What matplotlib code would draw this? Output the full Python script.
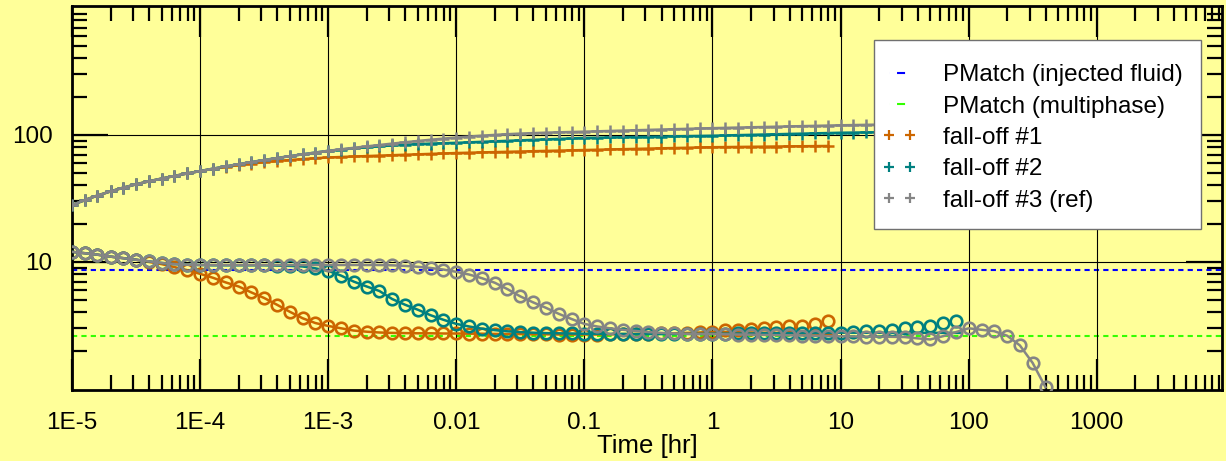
import matplotlib
matplotlib.use('Agg')
import matplotlib.pyplot as plt
from matplotlib.lines import Line2D
from matplotlib.patches import Rectangle
from matplotlib.ticker import FixedLocator, FixedFormatter, LogLocator, NullFormatter

plt.rcParams['font.family'] = ['Liberation Sans', 'DejaVu Sans']

# ---------------- data ----------------
time_hr = [1.0e-5, 1.26e-5, 1.58e-5, 2.0e-5, 2.51e-5, 3.16e-5, 3.98e-5, 5.01e-5, 6.31e-5, 7.94e-5,
           1.0e-4, 1.26e-4, 1.58e-4, 2.0e-4, 2.51e-4, 3.16e-4, 3.98e-4, 5.01e-4, 6.31e-4, 7.94e-4,
           1.0e-3, 1.26e-3, 1.58e-3, 2.0e-3, 2.51e-3, 3.16e-3, 3.98e-3, 5.01e-3, 6.31e-3, 7.94e-3,
           1.0e-2, 1.26e-2, 1.58e-2, 2.0e-2, 2.51e-2, 3.16e-2, 3.98e-2, 5.01e-2, 6.31e-2, 7.94e-2,
           0.1, 0.126, 0.158, 0.2, 0.251, 0.316, 0.398, 0.501, 0.631, 0.794,
           1.0, 1.26, 1.58, 2.0, 2.51, 3.16, 3.98, 5.01, 6.31, 7.94,
           10.0, 12.6, 15.8, 20.0, 25.1, 31.6, 39.8, 50.1, 63.1, 79.4,
           100.0, 126.0, 158.0, 200.0, 251.0, 316.0, 398.0]

# pressure change (+ markers)
dp1 = [28.0, 30.7, 33.3, 35.9, 38.4, 40.8, 43.1, 45.3, 47.5, 49.7,
       51.9, 54.0, 56.0, 57.8, 59.4, 60.9, 62.2, 63.4, 64.5, 65.5,
       66.4, 67.0, 67.6, 68.1, 68.7, 69.2, 69.8, 70.3, 70.9, 71.4,
       72.0, 72.4, 72.8, 73.2, 73.6, 74.0, 74.4, 74.8, 75.2, 75.6,
       76.0, 76.4, 76.8, 77.2, 77.6, 78.0, 78.4, 78.8, 79.2, 79.6,
       80.0, 80.2, 80.4, 80.6, 80.8, 81.0, 81.2, 81.4, 81.6, 81.8]
dp2 = [28.0, 30.7, 33.3, 35.9, 38.4, 40.8, 43.1, 45.3, 47.5, 49.7,
       51.9, 54.2, 56.5, 58.8, 61.1, 63.4, 65.7, 68.0, 70.3, 72.6,
       74.9, 76.7, 78.4, 80.0, 81.4, 82.6, 83.7, 84.6, 85.4, 86.0,
       86.6, 87.4, 88.2, 89.0, 89.8, 90.6, 91.4, 92.2, 93.0, 93.8,
       94.6, 95.0, 95.4, 95.8, 96.2, 96.6, 97.0, 97.4, 97.8, 98.1,
       98.5, 99.0, 99.6, 100.1, 100.7, 101.2, 101.8, 102.3, 102.9, 103.4,
       104.0, 104.3, 104.6, 104.9, 105.2, 105.5, 105.8, 106.1, 106.4, 106.7]
dp3 = [28.0, 30.7, 33.3, 35.9, 38.4, 40.8, 43.1, 45.3, 47.5, 49.7,
       51.9, 54.2, 56.5, 58.8, 61.1, 63.4, 65.7, 68.0, 70.3, 72.6,
       74.9, 77.0, 79.1, 81.2, 83.3, 85.4, 87.5, 89.6, 91.6, 93.5,
       95.3, 97.0, 98.6, 100.0, 101.3, 102.4, 103.3, 104.1, 104.8, 105.4,
       106.0, 106.7, 107.4, 108.1, 108.8, 109.5, 110.2, 110.9, 111.6, 112.3,
       113.0, 113.6, 114.2, 114.8, 115.4, 116.0, 116.6, 117.2, 117.8, 118.4,
       119.0, 119.5, 120.0, 120.5, 121.0, 121.4, 121.8, 122.2, 122.6, 123.0,
       123.3, 123.6, 123.8, 124.0, 124.1, 124.2, 124.3]

# derivative (o markers)
der1 = [12.0, 11.7, 11.4, 11.0, 10.7, 10.4, 10.0, 9.6, 9.1, 8.6,
        8.05, 7.5, 6.9, 6.4, 5.75, 5.2, 4.6, 4.05, 3.6, 3.3,
        3.13, 3.0, 2.88, 2.82, 2.78, 2.76, 2.75, 2.74, 2.74, 2.73,
        2.73, 2.72, 2.72, 2.71, 2.70, 2.70, 2.69, 2.69, 2.68, 2.68,
        2.68, 2.68, 2.69, 2.70, 2.71, 2.72, 2.73, 2.74, 2.76, 2.78,
        2.82, 2.92, 2.90, 2.97, 3.02, 3.05, 3.10, 3.15, 3.25, 3.40]
der2 = [12.0, 11.7, 11.4, 11.0, 10.7, 10.4, 10.1, 9.8, 9.6, 9.5,
        9.45, 9.4, 9.4, 9.4, 9.4, 9.4, 9.35, 9.3, 9.2, 8.9,
        8.5, 7.8, 7.0, 6.4, 5.9, 5.1, 4.6, 4.2, 3.8, 3.5,
        3.25, 3.1, 2.98, 2.9, 2.84, 2.8, 2.77, 2.75, 2.74, 2.73,
        2.72, 2.72, 2.71, 2.71, 2.70, 2.70, 2.70, 2.70, 2.71, 2.71,
        2.72, 2.72, 2.73, 2.73, 2.74, 2.74, 2.75, 2.75, 2.76, 2.76,
        2.77, 2.80, 2.84, 2.88, 2.93, 3.00, 3.07, 3.15, 3.30, 3.45]
der3 = [12.0, 11.7, 11.4, 11.0, 10.7, 10.4, 10.1, 9.8, 9.6, 9.5,
        9.45, 9.45, 9.45, 9.45, 9.45, 9.45, 9.45, 9.45, 9.45, 9.45,
        9.45, 9.45, 9.45, 9.45, 9.45, 9.4, 9.3, 9.15, 8.95, 8.7,
        8.35, 7.95, 7.45, 6.85, 6.1, 5.35, 4.8, 4.35, 3.9, 3.55,
        3.25, 3.1, 3.0, 2.92, 2.86, 2.8, 2.76, 2.73, 2.71, 2.70,
        2.70, 2.69, 2.68, 2.67, 2.66, 2.65, 2.64, 2.63, 2.62, 2.60,
        2.60, 2.59, 2.58, 2.58, 2.57, 2.56, 2.50, 2.45, 2.60, 2.80,
        3.00, 2.92, 2.85, 2.62, 2.20, 1.60, 1.03]

# model derivative tails (flat model beyond where data deviate)
model1_tail_t, model1_tail = [9.3], [2.70]
model2_tail_t, model2_tail = [85.0], [2.76]
model1_cut, model2_cut = 50, 60

pmatch_injected = 8.7
pmatch_multiphase = 2.61

xtick_vals = [1e-5, 1e-4, 1e-3, 1e-2, 1e-1, 1, 10, 100, 1000]
xtick_labels = ['1E-5', '1E-4', '1E-3', '0.01', '0.1', '1', '10', '100', '1000']
ytick_vals = [10, 100]
ytick_labels = ['10', '100']

names = ['fall-off #1', 'fall-off #2', 'fall-off #3 (ref)']
colors = ['#CC6600', '#008080', '#858585']
BG = '#FFFF99'

# ---------------- figure ----------------
W, H = 1226, 461
fig = plt.figure(figsize=(W / 100, H / 100), dpi=100, facecolor=BG)
ax = fig.add_axes([72 / W, 1 - 390 / H, 1150 / W, 384 / H])
ax.set_facecolor(BG)
ax.set_xscale('log')
ax.set_yscale('log')
ax.set_xlim(1e-5, 9500)
ax.set_ylim(0.98, 1035)

dash = (0, (2.5, 2.0))
ax.axhline(pmatch_injected, color='#0000FF', lw=1.5, ls=dash, zorder=1.5)
ax.axhline(pmatch_multiphase, color='#33FF00', lw=1.5, ls=dash, zorder=1.5)

pressures = [dp1, dp2, dp3]
derivs = [der1, der2, der3]
for i in range(3):
    c = colors[i]
    tp = time_hr[:len(pressures[i])]
    td = time_hr[:len(derivs[i])]
    z = 2 + i
    # model lines
    ax.plot(tp, pressures[i], color=c, lw=1.8, zorder=z)
    if i == 0:
        mt = time_hr[:model1_cut + 1] + model1_tail_t
        mv = der1[:model1_cut + 1] + model1_tail
    elif i == 1:
        mt = time_hr[:model2_cut + 1] + model2_tail_t
        mv = der2[:model2_cut + 1] + model2_tail
    else:
        mt, mv = td, der3
    ax.plot(mt, mv, color=c, lw=1.8, zorder=z)
    # data
    ax.plot(tp, pressures[i], ls='none', marker='+', ms=8.5, mew=1.8, color=c, zorder=z + 0.1)
    ax.plot(td, derivs[i], ls='none', marker='o', ms=8.3, mew=1.9, mfc='none', mec=c, zorder=z + 0.1)

# axes styling
ax.xaxis.set_major_locator(FixedLocator(xtick_vals))
ax.xaxis.set_major_formatter(FixedFormatter(xtick_labels))
ax.xaxis.set_minor_locator(LogLocator(base=10, subs=[2, 3, 4, 5, 6, 7, 8, 9], numticks=30))
ax.xaxis.set_minor_formatter(NullFormatter())
ax.yaxis.set_major_locator(FixedLocator(ytick_vals))
ax.yaxis.set_major_formatter(FixedFormatter(ytick_labels))
ax.yaxis.set_minor_locator(LogLocator(base=10, subs=[2, 3, 4, 5, 6, 7, 8, 9], numticks=30))
ax.yaxis.set_minor_formatter(NullFormatter())

ax.grid(True, which='major', color='black', lw=0.8, zorder=1)
ax.tick_params(which='both', direction='in', top=True, right=True, width=1.6, colors='black',
               labelsize=17.5)
ax.tick_params(axis='x', which='major', length=22, pad=16)
ax.tick_params(axis='y', which='major', length=26, pad=14)
ax.tick_params(which='minor', length=11)
for s in ax.spines.values():
    s.set_linewidth(2.0)
    s.set_color('black')

ax.set_xlabel('Time [hr]', fontsize=18.5, labelpad=0)

# legend
rect = Rectangle((874 / W, 1 - 229 / H), 327 / W, 189 / H, transform=fig.transFigure,
                 facecolor='white', edgecolor='#707070', lw=1.0, zorder=1)
fig.patches.append(rect)
handles = [
    Line2D([], [], color='#0000FF', lw=1.5, ls=(0, (0.01, 3.85, 3.85, 2.9, 1.9, 60))),
    Line2D([], [], color='#33FF00', lw=1.5, ls=(0, (0.01, 3.85, 3.85, 2.9, 1.9, 60))),
] + [Line2D([], [], ls='none', marker='+', ms=7, mew=1.6, color=c) for c in colors]
labels = ['PMatch (injected fluid)', 'PMatch (multiphase)'] + names
leg = fig.legend(handles, labels, loc='upper left', bbox_to_anchor=(882 / W, 1 - 64 / H),
                 bbox_transform=fig.transFigure, frameon=False, borderpad=0, borderaxespad=0,
                 handlelength=1.46, handletextpad=1.05, labelspacing=0.39, numpoints=2,
                 fontsize=17.5)
leg.set_zorder(2)

fig.savefig('out.png', dpi=100, facecolor=BG)
